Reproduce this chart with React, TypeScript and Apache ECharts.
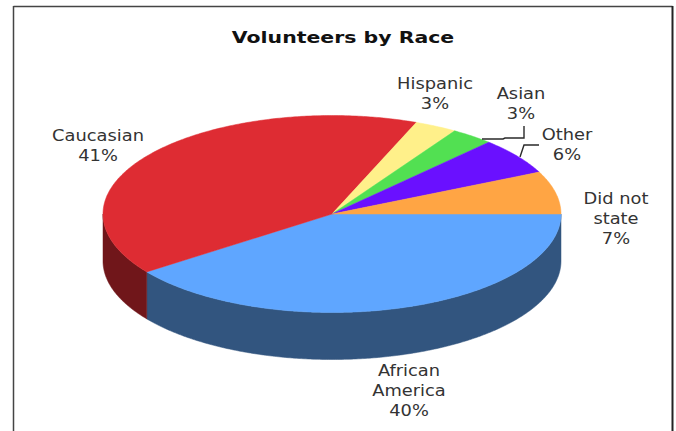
import React, { useEffect, useRef } from "react";
import * as echarts from "echarts";

const chartTitle = "Volunteers by Race";
const sliceNames = ["African\nAmerica", "Caucasian", "Hispanic", "Asian", "Other", "Did not\nstate"];
const sliceShares = [40, 41, 3, 3, 6, 7];
const topColors = ["#5FA6FF", "#DE2C33", "#FFF08A", "#52E052", "#6A10FF", "#FFA544"];
const rimColors = ["#32557F", "#70161A", "#7F7845", "#297029", "#350880", "#805222"];
const labelCentres: [number, number][] = [
  [409, 391],
  [98, 146],
  [435, 94],
  [521, 104],
  [567, 145],
  [616, 219],
];

const PIE = { cx: 332, cy: 214, rx: 229, ry: 98.5, depth: 47 };
const FONT_FAMILY = "'DejaVu Sans', Verdana, sans-serif";
// DejaVu runs narrower than the wide bitmap-style lettering, so text is stretched horizontally.
const TEXT_STRETCH = 1.19;
const TITLE_STRETCH = 1.24;

// Start and end angle of a slice, clockwise from the right-hand end of the ellipse.
function sliceSpan(index: number): [number, number] {
  const total = sliceShares.reduce((a, b) => a + b, 0);
  const before = sliceShares.slice(0, index).reduce((a, b) => a + b, 0);
  const toAngle = (share: number) => (share / total) * Math.PI * 2;
  return [toAngle(before), toAngle(before + sliceShares[index])];
}

function arcPoints(from: number, to: number, dy = 0): number[][] {
  const steps = Math.max(2, Math.ceil(Math.abs(to - from) / 0.01));
  const points: number[][] = [];
  for (let i = 0; i <= steps; i++) {
    const a = from + ((to - from) * i) / steps;
    points.push([PIE.cx + PIE.rx * Math.cos(a), PIE.cy + PIE.ry * Math.sin(a) + dy]);
  }
  return points;
}

// The side wall is visible only along the front half of the ellipse.
function renderRim(params: any) {
  const [start, end] = sliceSpan(params.dataIndex);
  const from = Math.min(start, Math.PI);
  const to = Math.min(end, Math.PI);
  if (to <= from) return { type: "group", children: [] };
  const color = rimColors[params.dataIndex];
  return {
    type: "polygon",
    shape: { points: [...arcPoints(from, to), ...arcPoints(to, from, PIE.depth)] },
    style: { fill: color, stroke: color, lineWidth: 0.5 },
  };
}

function renderTop(params: any) {
  const [start, end] = sliceSpan(params.dataIndex);
  const color = topColors[params.dataIndex];
  return {
    type: "polygon",
    shape: { points: [[PIE.cx, PIE.cy], ...arcPoints(start, end)] },
    style: { fill: color, stroke: color, lineWidth: 0.5 },
  };
}

function renderLabel(params: any) {
  const i = params.dataIndex;
  const [x, y] = labelCentres[i];
  return {
    type: "text",
    x,
    y,
    scaleX: TEXT_STRETCH,
    style: {
      text: `${sliceNames[i]}\n${sliceShares[i]}%`,
      x: 0,
      y: 0,
      font: `15px ${FONT_FAMILY}`,
      lineHeight: 20,
      fill: "#333333",
      textAlign: "center",
      textVerticalAlign: "middle",
    },
  };
}

function leader(points: number[][]) {
  return {
    type: "polyline",
    z: 5,
    shape: { points },
    style: { fill: "none", stroke: "#2A2A2A", lineWidth: 1.4 },
  };
}

function frameLine(x1: number, y1: number, x2: number, y2: number, stroke: string, lineWidth: number) {
  return { type: "line", z: 5, shape: { x1, y1, x2, y2 }, style: { stroke, lineWidth } };
}

export default function App() {
  const ref = useRef<HTMLDivElement>(null);

  useEffect(() => {
    const chart = echarts.init(ref.current!, null, { renderer: "svg" });
    const data = sliceNames.map((name, i) => ({ name, value: sliceShares[i] }));
    const customSeries = (renderItem: any) => ({
      type: "custom",
      coordinateSystem: "none",
      data,
      renderItem,
      silent: true,
    });
    chart.setOption({
      animation: false,
      backgroundColor: "#FFFFFF",
      graphic: [
        {
          type: "text",
          z: 5,
          x: 343,
          y: 37,
          scaleX: TITLE_STRETCH,
          style: {
            text: chartTitle,
            x: 0,
            y: 0,
            font: `bold 16.5px ${FONT_FAMILY}`,
            fill: "#111111",
            textAlign: "center",
            textVerticalAlign: "middle",
          },
        },
        frameLine(13.5, 6.5, 672.5, 6.5, "#444444", 1.5),
        frameLine(13.5, 6, 13.5, 431, "#444444", 1.5),
        frameLine(672.5, 6, 672.5, 431, "#222222", 2),
        leader([[482, 139], [503, 139], [505, 138], [524, 138], [524, 126]]),
        leader([[520, 157], [524, 145], [539, 145]]),
      ],
      series: [customSeries(renderRim), customSeries(renderTop), customSeries(renderLabel)],
    });
    return () => chart.dispose();
  }, []);

  return (
    <div
      ref={ref}
      style={{ position: "absolute", left: 0, top: 0, width: 676, height: 431 }}
    />
  );
}
